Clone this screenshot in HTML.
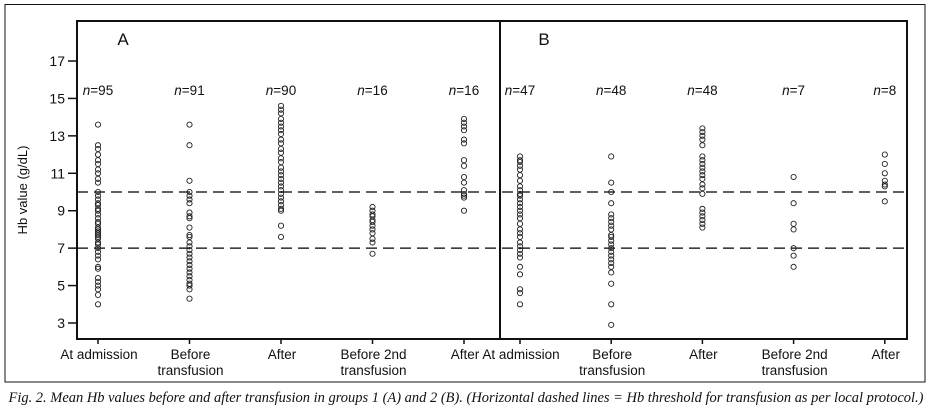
<!DOCTYPE html>
<html><head><meta charset="utf-8"><style>
body{margin:0;background:#fff;width:937px;height:412px;overflow:hidden}
svg text{font-family:"Liberation Sans",sans-serif;fill:#111}
</style></head><body>
<svg id="c" width="937" height="412">
<rect x="5" y="4.5" width="920" height="377.5" fill="none" stroke="#111" stroke-width="1"/>
<g id="g"></g>
<text x="466" y="402" text-anchor="middle" font-size="14.5" textLength="915" lengthAdjust="spacingAndGlyphs" style="font-family:'Liberation Serif',serif;font-style:italic">Fig. 2. Mean Hb values before and after transfusion in groups 1 (A) and 2 (B). (Horizontal dashed lines = Hb threshold for transfusion as per local protocol.)</text>
<text transform="translate(27,190) rotate(-90)" text-anchor="middle" font-size="13">Hb value (g/dL)</text>
</svg>
<script>
const yTicks=[3,5,7,9,11,13,15,17];
const thresholds=[7,10];
const catLabels=[["At admission"],["Before","transfusion"],["After"],["Before 2nd","transfusion"],["After"]];
const nA=["95","91","90","16","16"];
const nB=["47","48","48","7","8"];
const A1=[13.6,12.5,12.3,12.0,11.7,11.5,11.2,11.0,10.7,10.5,10.0,9.8,9.6,9.4,9.3,9.1,9.0,8.8,8.6,8.4,8.3,8.1,8.0,7.9,7.8,7.7,7.6,7.5,7.3,7.2,7.0,6.8,6.6,6.4,6.0,5.9,5.4,5.2,5.0,4.8,4.5,4.0];
const A2=[13.6,12.5,10.6,10.0,9.8,9.6,9.4,8.9,8.7,8.6,8.1,7.7,7.6,7.3,7.1,6.9,6.7,6.5,6.3,6.1,5.9,5.7,5.5,5.3,5.1,5.0,4.8,4.3];
const A3=[14.6,14.4,14.2,13.9,13.7,13.5,13.3,13.1,12.8,12.6,12.3,12.1,11.8,11.6,11.3,11.1,10.9,10.7,10.5,10.3,10.1,9.9,9.7,9.5,9.3,9.1,9.0,8.2,7.6];
const A4=[9.2,9.0,8.8,8.7,8.5,8.4,8.2,8.0,7.8,7.5,7.3,6.7];
const A5=[13.9,13.7,13.5,13.3,12.8,12.6,11.7,11.4,10.8,10.5,10.1,9.9,9.8,9.7,9.0];
const B1=[11.9,11.7,11.6,11.4,11.2,10.9,10.6,10.3,10.1,9.9,9.8,9.6,9.4,9.2,9.0,8.8,8.6,8.3,8.0,7.8,7.6,7.3,7.1,6.9,6.7,6.5,6.0,5.6,4.8,4.6,4.0];
const B2=[11.9,10.5,10.0,9.4,8.8,8.6,8.4,8.2,8.0,7.7,7.6,7.4,7.2,7.0,6.8,6.6,6.4,6.2,6.0,5.7,5.1,4.0,2.9];
const B3=[13.4,13.2,13.0,12.8,12.5,11.9,11.7,11.5,11.3,11.1,10.9,10.7,10.4,10.2,9.9,9.1,8.9,8.7,8.5,8.3,8.1];
const B4=[10.8,9.4,8.3,8.0,7.0,6.6,6.0];
const B5=[12.0,11.5,11.0,10.6,10.4,10.3,9.5];
const seriesA=[A1,A2,A3,A4,A5], seriesB=[B1,B2,B3,B4,B5];
const NS="http://www.w3.org/2000/svg", g=document.getElementById('g');
const L=77,R=907,T=21,Bt=339,MID=500;
const y=v=>323-(v-3)*(262/14);
const xA=i=>98+i*91.5, xB=i=>520+i*91.2;
function mk(t,a,p){const e=document.createElementNS(NS,t);for(const k in a)e.setAttribute(k,a[k]);(p||g).appendChild(e);return e;}
let e;
e=mk('rect',{x:L,y:T,width:R-L,height:Bt-T,fill:'none',stroke:'#111','stroke-width':2});


e=mk('line',{x1:MID,x2:MID,y1:T,y2:Bt,stroke:'#111','stroke-width':2});


yTicks.forEach(v=>{
 e=mk('line',{x1:L-9,x2:L,y1:y(v),y2:y(v),stroke:'#111','stroke-width':1.5});
 
 
 e=mk('text',{x:L-12,y:y(v)+5,'text-anchor':'end','font-size':14});
 e.textContent=v;
 
 
});
thresholds.forEach(v=>{
 e=mk('line',{x1:L,x2:R,y1:y(v),y2:y(v),stroke:'#000','stroke-width':1.2,'stroke-dasharray':'11,6'});
 
 
});
[["A",123,xA,nA,seriesA],["B",544,xB,nB,seriesB]].forEach(([lab,lx,xf,ns,ser])=>{
 e=mk('text',{x:lx,y:45,'text-anchor':'middle','font-size':17});
 e.textContent=lab;
 
 
 catLabels.forEach((cl,i)=>{
  const x=xf(i);
  e=mk('line',{x1:x,x2:x,y1:Bt,y2:Bt+5,stroke:'#111','stroke-width':1.5});
  
  
  cl.forEach((s,j)=>{
   e=mk('text',{x:x+1,y:359+j*16,'text-anchor':'middle','font-size':13.5});
   e.textContent=s;
   
   
  });
  e=mk('text',{x:x,y:95,'text-anchor':'middle','font-size':13.5});
  e.innerHTML='<tspan font-style="italic">n</tspan>='+ns[i];
  
  
  ser[i].forEach(v=>{
   e=mk('circle',{cx:x,cy:y(v),r:2.6,fill:'none',stroke:'#222','stroke-width':0.9});
   
   
  });
 });
});
</script>
</body></html>
